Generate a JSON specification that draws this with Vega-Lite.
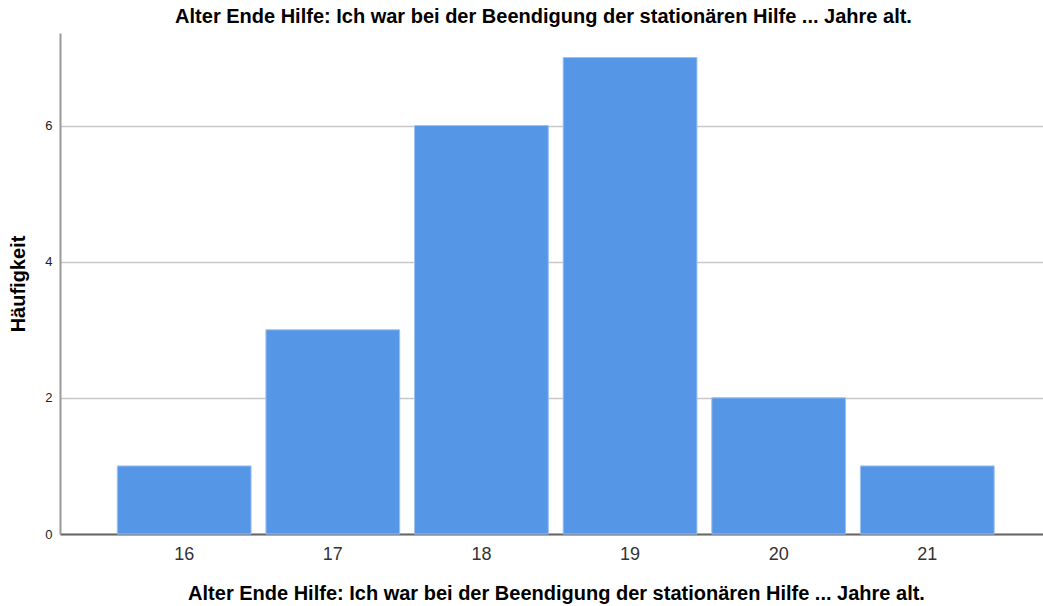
{
  "$schema": "https://vega.github.io/schema/vega-lite/v6.json",
  "width": 983,
  "height": 501,
  "autosize": {"type": "none"},
  "padding": {"left": 60, "top": 33, "right": 0, "bottom": 72},
  "background": "white",
  "title": {
    "text": "Alter Ende Hilfe: Ich war bei der Beendigung der stationären Hilfe ... Jahre alt.",
    "font": "Liberation Sans",
    "fontSize": 20,
    "fontWeight": "bold",
    "color": "#000000",
    "anchor": "middle",
    "frame": "group",
    "dx": -8,
    "offset": 6
  },
  "data": {
    "values": [
      {"alter": "16", "count": 1},
      {"alter": "17", "count": 3},
      {"alter": "18", "count": 6},
      {"alter": "19", "count": 7},
      {"alter": "20", "count": 2},
      {"alter": "21", "count": 1}
    ]
  },
  "config": {
    "view": {"stroke": null},
    "font": "Liberation Sans"
  },
  "mark": {"type": "bar", "color": "#5596E6", "stroke": "#9cc1f0", "strokeWidth": 1},
  "encoding": {
    "x": {
      "field": "alter",
      "type": "ordinal",
      "scale": {"paddingInner": 0.1, "paddingOuter": 0.357, "align": 0.54},
      "axis": {
        "title": "Alter Ende Hilfe: Ich war bei der Beendigung der stationären Hilfe ... Jahre alt.",
        "titleFont": "Liberation Sans",
        "titleFontSize": 20,
        "titleFontWeight": "bold",
        "titleColor": "#000000",
        "titleX": 496,
        "titlePadding": 20,
        "labelAngle": 0,
        "labelFont": "Liberation Sans",
        "labelFontSize": 18,
        "labelColor": "#333333",
        "labelPadding": 11,
        "ticks": false,
        "domainColor": "#666666",
        "domainWidth": 2,
        "grid": false
      }
    },
    "y": {
      "field": "count",
      "type": "quantitative",
      "scale": {"domain": [0, 7.36], "nice": false},
      "axis": {
        "title": "Häufigkeit",
        "titleFont": "Liberation Sans",
        "titleFontSize": 20,
        "titleFontWeight": "bold",
        "titleColor": "#000000",
        "titlePadding": 16,
        "values": [0, 2, 4, 6],
        "labelFont": "Liberation Sans",
        "labelFontSize": 13,
        "labelColor": "#222222",
        "labelPadding": 8,
        "ticks": false,
        "domainColor": "#999999",
        "domainWidth": 2,
        "grid": true,
        "gridColor": "#c8c8c8",
        "gridWidth": 1.5
      }
    }
  }
}
